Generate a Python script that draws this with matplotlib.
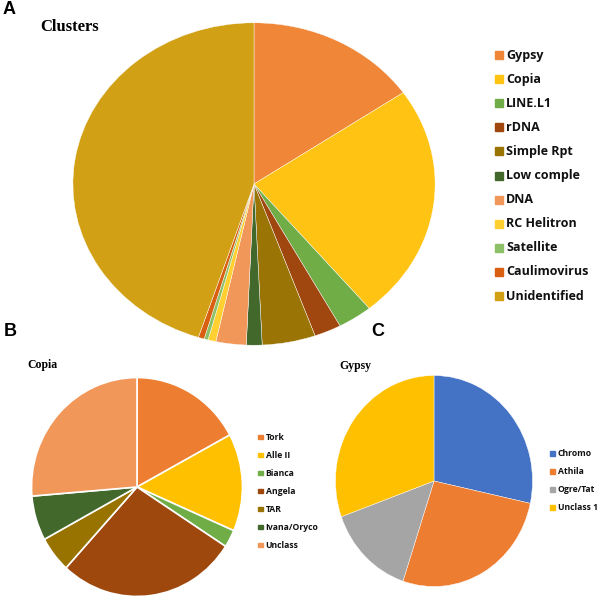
import matplotlib
matplotlib.use("Agg")
import matplotlib.pyplot as plt
from matplotlib.patches import Rectangle

# panel A: clusters (percent)
clu_labels = ["Gypsy", "Copia", "LINE.L1", "rDNA", "Simple Rpt", "Low comple",
              "DNA", "RC Helitron", "Satellite", "Caulimovirus", "Unidentified"]
clu_values = [15.4, 23.6, 3.1, 2.4, 4.75, 1.4, 2.7, 0.7, 0.36, 0.53, 45.0]
clu_colors = ["#EF8638", "#FFC413", "#70AD47", "#A0470F", "#9A7404", "#43682B",
              "#F1975A", "#FFD030", "#8CC168", "#D86010", "#D1A014"]

# panel B: Copia
cop_labels = ["Tork", "Alle II", "Bianca", "Angela", "TAR", "Ivana/Oryco", "Unclass"]
cop_values = [17.1, 14.4, 2.6, 27.6, 5.3, 6.6, 26.3]
cop_colors = ["#ED7D31", "#FFC000", "#70AD47", "#9E480E", "#997300", "#43682B", "#F1975A"]

# panel C: Gypsy
gyp_labels = ["Chromo", "Athila", "Ogre/Tat", "Unclass 1"]
gyp_values = [28.4, 26.7, 14.4, 30.5]
gyp_colors = ["#4472C4", "#ED7D31", "#A5A5A5", "#FFC000"]

W, H = 600, 607
fig = plt.figure(figsize=(W / 100, H / 100), dpi=100)


def px_axes(cx, cy, rx, ry):
    # axes box in pixel coords (top-left origin)
    return fig.add_axes([(cx - rx) / W, (H - cy - ry) / H, 2 * rx / W, 2 * ry / H])


def draw_pie(ax, values, colors, edge):
    ax.pie(values, colors=colors, startangle=90, counterclock=False, radius=1,
           wedgeprops=dict(edgecolor=edge[0], linewidth=edge[1]))
    ax.set_aspect("auto")
    ax.set_xlim(-1.005, 1.005)
    ax.set_ylim(-1.005, 1.005)
    ax.axis("off")


def draw_legend(x, y0, dy, labels, colors, size, fs):
    for i, (lab, col) in enumerate(zip(labels, colors)):
        y = y0 + i * dy
        fig.patches.append(Rectangle(((x) / W, (H - y - size / 2) / H), size / W, size / H,
                                     transform=fig.transFigure, color=col, figure=fig))
        fig.text((x + size + 3) / W, (H - y) / H, lab, fontsize=fs, fontweight="bold",
                 family="Open Sans", va="center", ha="left", color="#111111")


axA = px_axes(254, 184, 182, 162)
draw_pie(axA, clu_values, clu_colors, ("white", 0.3))
draw_legend(495, 55, 24.1, clu_labels, clu_colors, 8, 9)

axB = px_axes(137, 487, 106, 110)
draw_pie(axB, cop_values, cop_colors, ("white", 1.2))
draw_legend(258, 437, 18, cop_labels, cop_colors, 4.5, 6.2)

axC = px_axes(434, 481, 99, 106)
draw_pie(axC, gyp_values, gyp_colors, ("white", 0.3))
draw_legend(550, 453, 18.3, gyp_labels, gyp_colors, 5, 6.2)

# titles
fig.text(40 / W, (H - 27) / H, "Clusters", fontsize=12, fontweight="bold",
         family="Liberation Serif", va="center")
fig.text(27 / W, (H - 365) / H, "Copia", fontsize=8.5, fontweight="bold",
         family="Liberation Serif", va="center")
fig.text(339 / W, (H - 366) / H, "Gypsy", fontsize=8.5, fontweight="bold",
         family="Liberation Serif", va="center")

# panel letters
for lab, x, y in [("A", 3, 10), ("B", 4, 331), ("C", 371, 331)]:
    fig.text(x / W, (H - y) / H, lab, fontsize=13, fontweight="bold",
             family="Liberation Sans", va="center")

fig.savefig("out.png", dpi=100)
